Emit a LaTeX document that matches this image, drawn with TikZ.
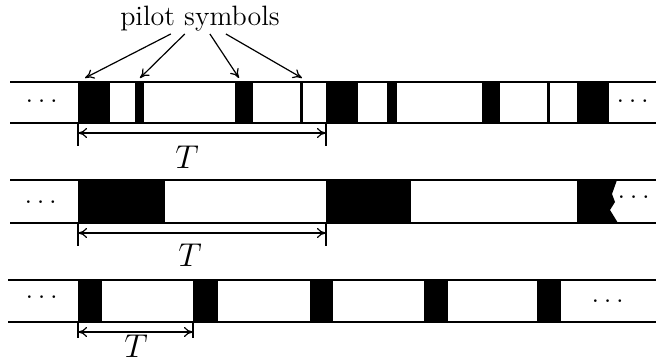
\RequirePackage{fix-cm}
\documentclass[tikz,border=0pt]{standalone}
\usepackage{amsmath}
\usetikzlibrary{arrows.meta}

\begin{document}
\begin{tikzpicture}[x=0.5pt,y=-0.5pt,>={To[length=4.5pt,width=5pt]},
    rowline/.style={line width=0.8pt},
    pilotblock/.style={fill=black},
    dimline/.style={line width=0.6pt,<->},
    tickline/.style={line width=0.6pt},
    labeltext/.style={font=\fontsize{14}{16}\selectfont,inner sep=1pt},
    periodtext/.style={font=\fontsize{16.5}{19}\selectfont,inner sep=0pt},
    dotstext/.style={font=\fontsize{14}{16}\selectfont}]
        \useasboundingbox (0,0) rectangle (656,362);

        % row 1
        \foreach \a/\b in {78/110,135/144,235/253,300/303,326/358,387/397,482/500,547/550,577/609}
            \fill[pilotblock] (\a,82) rectangle (\b,123);
        \draw[rowline] (10,82) -- (656,82);
        \draw[rowline] (10,123) -- (656,123);
        \node[dotstext] (dotsAl) at (44,101) {$\dots$};
        \node[dotstext] (dotsAr) at (635,101) {$\dots$};

        % row 2
        \foreach \a/\b in {78/165,326/411}
            \fill[pilotblock] (\a,180) rectangle (\b,223);
        \fill[pilotblock] (577,180) -- (617,180) -- (612,194) -- (615,202) -- (610,210) -- (618,223) -- (577,223) -- cycle;
        \draw[rowline] (10,180) -- (656,180);
        \draw[rowline] (10,223) -- (656,223);
        \node[dotstext] (dotsBl) at (43,202) {$\dots$};
        \node[dotstext] (dotsBr) at (636,197) {$\dots$};

        % row 3
        \foreach \a/\b in {78/102,193/218,310/333,424/448,537/561}
            \fill[pilotblock] (\a,280) rectangle (\b,322);
        \draw[rowline] (8,280) -- (656,280);
        \draw[rowline] (8,322) -- (656,322);
        \node[dotstext] (dotsCl) at (44,297) {$\dots$};
        \node[dotstext] (dotsCr) at (610,301) {$\dots$};

        % periods
        \coordinate (A1) at (78,123);
        \coordinate (B1) at (326,123);
        \coordinate (A2) at (78,223);
        \coordinate (B2) at (326,223);
        \coordinate (A3) at (78,322);
        \coordinate (B3) at (193,322);

        \draw[tickline] (A1) -- ++(0,23);
        \draw[tickline] (B1) -- ++(0,23);
        \draw[dimline] ([yshift=-5pt]A1) -- ([yshift=-5pt]B1);
        \node[periodtext] (T1) at (187,157) {$T$};
        \draw[tickline] (A2) -- ++(0,23);
        \draw[tickline] (B2) -- ++(0,23);
        \draw[dimline] ([yshift=-5pt]A2) -- ([yshift=-5pt]B2);
        \node[periodtext] (T2) at (190,255) {$T$};
        \draw[tickline] (A3) -- ++(0,16);
        \draw[tickline] (B3) -- ++(0,16);
        \draw[dimline] ([yshift=-5pt]A3) -- ([yshift=-5pt]B3);
        \node[periodtext] (T3) at (136,346) {$T$};

        % pilot symbols
        \node[labeltext] (pilot) at (200,19) {pilot symbols};
        \coordinate (P1) at (85,78);
        \coordinate (P2) at (140,78);
        \coordinate (P3) at (239,78);
        \coordinate (P4) at (302,78);
        \foreach \p in {P1,P2,P3,P4}
            \draw[line width=0.6pt,->] (pilot) -- (\p);
    \end{tikzpicture}
\end{document}
